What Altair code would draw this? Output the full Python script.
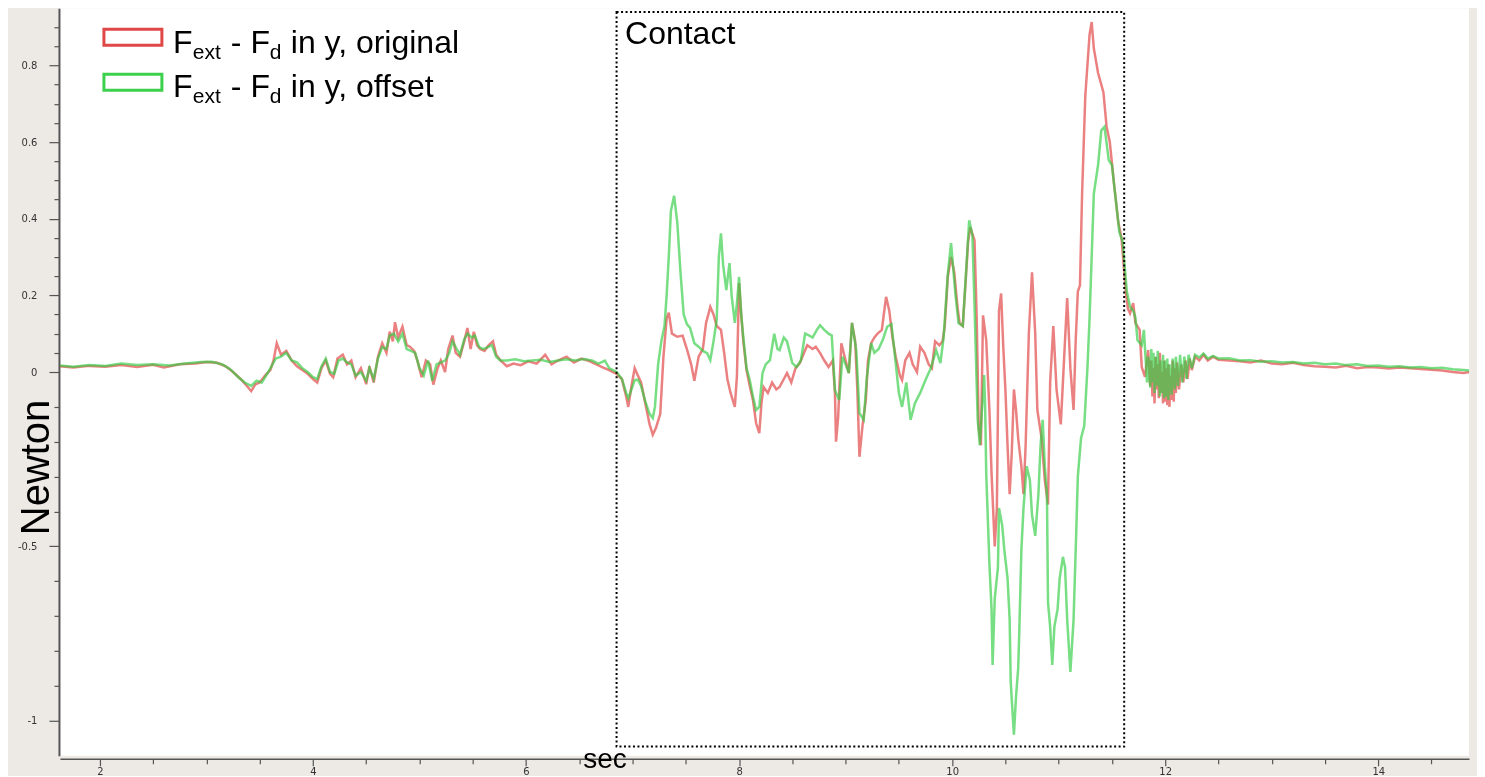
import altair as alt
import pandas as pd

# ---------------- data ----------------
t_orig = [1.62, 1.75, 1.90, 2.05, 2.20, 2.35, 2.50, 2.60, 2.75, 2.90, 3.00, 3.10, 3.18, 3.25, 3.32, 3.38,
          3.42, 3.46, 3.50, 3.55, 3.60, 3.63, 3.66, 3.70, 3.75, 3.80, 3.85, 3.90, 3.95, 4.00, 4.04, 4.08,
          4.12, 4.16, 4.19, 4.23, 4.28, 4.32, 4.36, 4.40, 4.45, 4.50, 4.53, 4.57, 4.61, 4.65, 4.69, 4.72,
          4.75, 4.77, 4.80, 4.84, 4.88, 4.91, 4.95, 4.98, 5.02, 5.06, 5.10, 5.13, 5.17, 5.20, 5.24, 5.27,
          5.31, 5.34, 5.38, 5.42, 5.45, 5.48, 5.51, 5.54, 5.57, 5.61, 5.65, 5.69, 5.72, 5.76, 5.82, 5.88,
          5.95, 6.02, 6.10, 6.18, 6.24, 6.30, 6.38, 6.45, 6.52, 6.60, 6.66, 6.72, 6.78, 6.85, 6.90, 6.94,
          6.96, 6.99, 7.02, 7.05, 7.08, 7.12, 7.16, 7.19, 7.22, 7.26, 7.29, 7.32, 7.34, 7.37, 7.42, 7.47,
          7.51, 7.55, 7.58, 7.62, 7.66, 7.69, 7.73, 7.76, 7.79, 7.83, 7.86, 7.89, 7.92, 7.96, 7.98, 8.00,
          8.02, 8.04, 8.07, 8.10, 8.13, 8.16, 8.19, 8.21, 8.23, 8.27, 8.31, 8.35, 8.38, 8.42, 8.45, 8.49,
          8.53, 8.57, 8.61, 8.64, 8.69, 8.72, 8.76, 8.80, 8.84, 8.88, 8.90, 8.91, 8.93, 8.96, 9.00, 9.03,
          9.06, 9.09, 9.11, 9.13, 9.16, 9.19, 9.21, 9.24, 9.27, 9.30, 9.34, 9.38, 9.41, 9.44, 9.47, 9.51,
          9.53, 9.56, 9.60, 9.63, 9.67, 9.70, 9.74, 9.78, 9.81, 9.84, 9.88, 9.91, 9.93, 9.96, 9.99, 10.02,
          10.05, 10.07, 10.10, 10.13, 10.15, 10.17, 10.19, 10.21, 10.23, 10.25, 10.27, 10.29, 10.32, 10.35,
          10.37, 10.40, 10.42, 10.44, 10.46, 10.48, 10.50, 10.52, 10.54, 10.56, 10.58, 10.60, 10.62, 10.65,
          10.67, 10.69, 10.72, 10.75, 10.78, 10.80, 10.84, 10.87, 10.90, 10.92, 10.95, 10.98, 11.02, 11.05,
          11.08, 11.11, 11.14, 11.16, 11.18, 11.20, 11.22, 11.25, 11.29, 11.31, 11.33, 11.37, 11.42, 11.45,
          11.48, 11.52, 11.56, 11.59, 11.63, 11.65, 11.67, 11.70, 11.72, 11.76, 11.78, 11.81, 11.84, 11.86,
          11.87, 11.88, 11.89, 11.90, 11.91, 11.92, 11.93, 11.94, 11.95, 11.96, 11.97, 11.98, 11.99, 12.00,
          12.01, 12.02, 12.03, 12.04, 12.05, 12.06, 12.07, 12.08, 12.09, 12.10, 12.11, 12.13, 12.15, 12.17,
          12.19, 12.21, 12.23, 12.25, 12.28, 12.32, 12.36, 12.40, 12.45, 12.50, 12.60, 12.70, 12.80, 12.90,
          13.00, 13.10, 13.20, 13.30, 13.40, 13.50, 13.60, 13.70, 13.80, 13.90, 14.00, 14.10, 14.20, 14.30,
          14.40, 14.50, 14.60, 14.70, 14.80, 14.86]
f_orig = [0.015, 0.012, 0.016, 0.014, 0.018, 0.013, 0.019, 0.012, 0.020, 0.022, 0.026, 0.024, 0.015, 0.000, -0.020, -0.040,
          -0.055, -0.035, -0.030, -0.010, 0.005, 0.030, 0.075, 0.045, 0.055, 0.030, 0.015, 0.005, -0.005, -0.020, -0.030, 0.010,
          0.030, -0.005, -0.015, 0.035, 0.045, 0.020, 0.030, -0.015, 0.010, -0.035, 0.015, -0.030, 0.040, 0.075, 0.050, 0.105,
          0.080, 0.130, 0.090, 0.118, 0.070, 0.066, 0.055, 0.030, -0.015, 0.030, 0.020, -0.036, 0.010, 0.030, 0.000, 0.060,
          0.095, 0.050, 0.040, 0.080, 0.115, 0.060, 0.105, 0.070, 0.060, 0.055, 0.070, 0.080, 0.045, 0.030, 0.015, 0.022,
          0.018, 0.028, 0.022, 0.045, 0.020, 0.030, 0.040, 0.025, 0.035, 0.028, 0.020, 0.012, 0.005, -0.005, -0.020, -0.070,
          -0.100, -0.040, 0.010, -0.010, -0.030, -0.090, -0.150, -0.180, -0.160, -0.120, 0.040, 0.140, 0.155, 0.100, 0.092, 0.095,
          0.060, 0.020, -0.025, 0.040, 0.060, 0.128, 0.170, 0.150, 0.120, 0.110, 0.050, -0.020, -0.060, -0.100, -0.010, 0.232,
          0.150, 0.080, 0.005, -0.040, -0.080, -0.147, -0.175, -0.090, -0.043, -0.060, -0.030, -0.050, -0.043, -0.020, -0.003, -0.030,
          0.010, 0.023, 0.050, 0.070, 0.060, 0.066, 0.050, 0.030, 0.013, 0.030, -0.060, -0.200, -0.130, 0.075, 0.030, -0.003,
          0.128, 0.080, -0.050, -0.243, -0.150, -0.080, 0.030, 0.075, 0.090, 0.100, 0.110, 0.196, 0.160, 0.090, 0.040, -0.010,
          -0.023, 0.030, 0.050, 0.020, 0.000, 0.066, 0.050, 0.020, 0.010, 0.080, 0.070, 0.080, 0.118, 0.250, 0.300, 0.260,
          0.170, 0.128, 0.120, 0.250, 0.340, 0.378, 0.360, 0.344, 0.147, -0.160, -0.210, 0.148, 0.083, -0.109,
          -0.290, -0.500, -0.390, 0.160, 0.205, 0.066, -0.050, -0.210, -0.350, -0.230, -0.050, -0.110, -0.190, -0.270,
          -0.350, -0.210, 0.100, 0.260, 0.100, -0.109, -0.190, -0.310, -0.380, -0.030, 0.120, -0.050, -0.150, 0.029,
          0.193, 0.010, -0.109, 0.083, 0.210, 0.226, 0.465, 0.720, 0.880, 0.913, 0.845, 0.780, 0.730, 0.640,
          0.600, 0.490, 0.390, 0.350, 0.210, 0.165, 0.153, 0.180, 0.128, 0.110, 0.013, -0.014, 0.057, -0.040,
          0.030, -0.070, 0.010, -0.090, 0.040, -0.050, 0.020, -0.075, 0.050, -0.060, 0.000, -0.090, 0.030, -0.085,
          0.010, -0.095, 0.020, -0.100, -0.010, -0.080, 0.030, -0.085, 0.010, -0.060, 0.025, -0.050, 0.020, -0.030,
          0.030, -0.020, 0.035, 0.005, 0.040, 0.030, 0.045, 0.030, 0.040, 0.032, 0.030, 0.028, 0.025, 0.030,
          0.022, 0.020, 0.024, 0.018, 0.015, 0.014, 0.012, 0.016, 0.010, 0.013, 0.012, 0.009, 0.012, 0.010,
          0.008, 0.006, 0.004, 0.000, -0.003, 0.000]

t_off = [1.62, 1.75, 1.90, 2.05, 2.20, 2.35, 2.50, 2.65, 2.80, 2.95, 3.05, 3.15, 3.22, 3.30, 3.36, 3.42,
         3.47, 3.52, 3.57, 3.61, 3.65, 3.70, 3.75, 3.80, 3.85, 3.90, 3.95, 4.00, 4.04, 4.08, 4.12, 4.16,
         4.20, 4.24, 4.28, 4.32, 4.36, 4.40, 4.45, 4.50, 4.53, 4.57, 4.61, 4.65, 4.69, 4.72, 4.76, 4.80,
         4.84, 4.88, 4.92, 4.96, 5.00, 5.04, 5.08, 5.12, 5.16, 5.20, 5.24, 5.28, 5.31, 5.35, 5.38, 5.42,
         5.45, 5.49, 5.52, 5.56, 5.60, 5.64, 5.68, 5.72, 5.76, 5.82, 5.90, 5.98, 6.06, 6.14, 6.22, 6.30,
         6.38, 6.46, 6.54, 6.62, 6.68, 6.74, 6.78, 6.85, 6.90, 6.94, 6.96, 6.99, 7.02, 7.05, 7.08, 7.12,
         7.16, 7.19, 7.21, 7.24, 7.27, 7.30, 7.32, 7.34, 7.36, 7.39, 7.42, 7.45, 7.48, 7.51, 7.54, 7.58,
         7.62, 7.66, 7.70, 7.73, 7.76, 7.79, 7.81, 7.83, 7.85, 7.88, 7.91, 7.93, 7.96, 7.98, 8.00, 8.02,
         8.04, 8.07, 8.10, 8.13, 8.16, 8.19, 8.22, 8.25, 8.29, 8.33, 8.36, 8.38, 8.42, 8.45, 8.50, 8.54,
         8.58, 8.62, 8.66, 8.69, 8.73, 8.76, 8.80, 8.84, 8.87, 8.90, 8.94, 8.97, 9.00, 9.03, 9.06, 9.10,
         9.13, 9.17, 9.20, 9.24, 9.27, 9.31, 9.35, 9.39, 9.43, 9.46, 9.50, 9.53, 9.57, 9.61, 9.65, 9.70,
         9.75, 9.80, 9.85, 9.89, 9.92, 9.96, 9.99, 10.03, 10.06, 10.10, 10.13, 10.16, 10.19, 10.21, 10.23, 10.24,
         10.26, 10.28, 10.30, 10.31, 10.32, 10.35, 10.37, 10.38, 10.40, 10.43, 10.44, 10.47, 10.49, 10.52, 10.54, 10.55,
         10.58, 10.60, 10.62, 10.63, 10.65, 10.67, 10.70, 10.73, 10.75, 10.78, 10.81, 10.83, 10.85, 10.87, 10.89, 10.90,
         10.92, 10.94, 10.96, 10.99, 11.01, 11.04, 11.06, 11.08, 11.11, 11.14, 11.16, 11.18, 11.21, 11.24, 11.27, 11.29,
         11.31, 11.33, 11.37, 11.40, 11.43, 11.47, 11.50, 11.53, 11.57, 11.60, 11.64, 11.67, 11.70, 11.72, 11.74, 11.78,
         11.80, 11.83, 11.84, 11.86, 11.87, 11.88, 11.89, 11.90, 11.91, 11.92, 11.93, 11.95, 11.96, 11.97, 11.98, 11.99,
         12.00, 12.01, 12.02, 12.03, 12.04, 12.06, 12.07, 12.09, 12.10, 12.12, 12.14, 12.16, 12.18, 12.20, 12.22, 12.25,
         12.28, 12.32, 12.36, 12.40, 12.45, 12.50, 12.60, 12.70, 12.80, 12.90, 13.00, 13.10, 13.20, 13.30, 13.40, 13.50,
         13.60, 13.70, 13.80, 13.90, 14.00, 14.10, 14.20, 14.30, 14.40, 14.50, 14.60, 14.70, 14.80, 14.86]
f_off = [0.017, 0.014, 0.018, 0.016, 0.022, 0.018, 0.020, 0.017, 0.022, 0.026, 0.027, 0.020, 0.008, -0.015, -0.030, -0.040,
         -0.025, -0.030, -0.005, 0.015, 0.035, 0.040, 0.050, 0.030, 0.025, 0.010, 0.000, -0.015, -0.020, 0.015, 0.035, 0.000,
         -0.005, 0.030, 0.035, 0.025, 0.020, -0.010, 0.000, -0.025, 0.010, -0.020, 0.035, 0.065, 0.060, 0.095, 0.100, 0.080,
         0.100, 0.060, 0.055, 0.050, 0.010, -0.010, 0.030, -0.025, 0.020, 0.025, 0.030, 0.050, 0.080, 0.060, 0.045, 0.085,
         0.100, 0.090, 0.095, 0.065, 0.060, 0.065, 0.070, 0.040, 0.030, 0.030, 0.033, 0.028, 0.030, 0.032, 0.026, 0.030,
         0.033, 0.030, 0.034, 0.030, 0.022, 0.030, 0.010, 0.000, -0.020, -0.060, -0.075, -0.050, -0.023, -0.022, -0.040, -0.085,
         -0.120, -0.132, -0.100, 0.020, 0.080, 0.120, 0.200, 0.300, 0.420, 0.460, 0.390, 0.260, 0.150, 0.125, 0.115, 0.075,
         0.066, 0.055, 0.049, 0.031, 0.080, 0.136, 0.300, 0.362, 0.280, 0.214, 0.284, 0.200, 0.128, 0.180, 0.248, 0.150,
         0.090, 0.010, -0.023, -0.070, -0.109, -0.100, -0.003, 0.020, 0.031, 0.100, 0.060, 0.057, 0.090, 0.080, 0.023, 0.013,
         0.030, 0.100, 0.095, 0.090, 0.110, 0.122, 0.110, 0.100, 0.095, -0.052, -0.080, 0.040, 0.020, -0.003, 0.128, 0.057,
         -0.118, -0.137, -0.013, 0.075, 0.050, 0.060, 0.085, 0.118, 0.125, 0.050, -0.060, -0.100, -0.030, -0.137, -0.090, -0.060,
         -0.023, 0.010, 0.057, 0.023, 0.090, 0.258, 0.336, 0.206, 0.128, 0.120, 0.258, 0.396, 0.357, 0.175, -0.030, -0.137,
         -0.210, -0.109, -0.009, -0.100, -0.290, -0.550, -0.680, -0.840, -0.650, -0.560, -0.390, -0.440, -0.510, -0.590, -0.710, -0.890,
         -1.040, -0.930, -0.850, -0.750, -0.510, -0.390, -0.270, -0.310, -0.410, -0.470, -0.350, -0.210, -0.137, -0.270, -0.350, -0.660,
         -0.730, -0.840, -0.730, -0.680, -0.590, -0.530, -0.560, -0.710, -0.860, -0.710, -0.510, -0.300, -0.190, -0.155, 0.010, 0.140,
         0.300, 0.465, 0.540, 0.630, 0.640, 0.553, 0.540, 0.465, 0.365, 0.340, 0.210, 0.170, 0.160, 0.143, 0.083, 0.070,
         0.110, -0.030, 0.040, -0.045, 0.060, -0.030, 0.050, -0.060, 0.040, -0.040, 0.055, -0.070, 0.030, -0.060, 0.045, -0.075,
         0.030, -0.070, 0.035, -0.080, 0.020, -0.065, 0.035, -0.050, 0.040, -0.040, 0.045, -0.030, 0.040, -0.020, 0.045, 0.010,
         0.045, 0.038, 0.048, 0.035, 0.042, 0.035, 0.036, 0.030, 0.031, 0.027, 0.028, 0.025, 0.026, 0.022, 0.024, 0.020,
         0.022, 0.018, 0.020, 0.016, 0.017, 0.014, 0.015, 0.012, 0.013, 0.010, 0.011, 0.007, 0.005, 0.004]

contact_start, contact_end = 6.85, 11.615
contact_top, contact_bottom = 0.939, -1.074

y_major = [0.8, 0.6, 0.4, 0.2, 0, -0.5, -1]
y_ticks = [round(0.05 * i, 2) for i in range(0, 20)] + [round(-0.1 * i, 1) for i in range(1, 11)]
x_ticks = [2 + 0.5 * i for i in range(0, 26)]

# ---------------- chart ----------------
df_orig = pd.DataFrame({"t": t_orig, "f": f_orig})
df_off = pd.DataFrame({"t": t_off, "f": f_off})

FONT = "Liberation Sans"
major_list = "[" + ",".join(str(v) for v in y_major) + "]"

x_scale = alt.Scale(domain=[1.625, 14.852], nice=False, zero=False)
y_scale = alt.Scale(domain=[-1.1003, 0, 0.949], range=[748, 364, 0], nice=False, zero=False)

x_axis = alt.Axis(
    values=x_ticks, tickCount=200,
    labelExpr="datum.value % 2 == 0 ? '' + datum.value : ''",
    tickSize={"condition": {"test": "datum.value % 2 == 0", "value": 7}, "value": 5},
    offset=3, grid=False, labelOverlap=False,
    domainColor="#555555", domainWidth=1.5, tickColor="#555555", tickWidth=1.2,
    labelFont="DejaVu Sans", labelFontSize=10, labelColor="#333333", labelPadding=1,
    title="sec", titleFont=FONT, titleFontSize=28, titleFontWeight="normal", titleColor="#000000",
    titleX=545, titleY=9, titleAlign="center", titleBaseline="alphabetic",
)
y_axis = alt.Axis(
    values=y_ticks, tickCount=200,
    labelExpr=f"indexof({major_list}, datum.value) >= 0 ? '' + datum.value : ''",
    tickSize={"condition": {"test": f"indexof({major_list}, datum.value) >= 0", "value": 10}, "value": 5},
    offset=1, grid=False, labelOverlap=False,
    domainColor="#555555", domainWidth=2, tickColor="#555555", tickWidth=1.2,
    labelFont="DejaVu Sans", labelFontSize=10, labelColor="#333333", labelPadding=12,
    title="Newton", titleFont=FONT, titleFontSize=40, titleFontWeight="normal", titleColor="#000000",
    titleX=-10, titleY=459, titleAlign="center", titleBaseline="alphabetic", titleAngle=270,
)

base_x = alt.X("t:Q", scale=x_scale, axis=x_axis)
base_y = alt.Y("f:Q", scale=y_scale, axis=y_axis)

line_orig = alt.Chart(df_orig).mark_line(
    color="#e03c3c", strokeWidth=2.5, opacity=0.65, clip=True, blend="multiply"
).encode(x=base_x, y=base_y)

line_off = alt.Chart(df_off).mark_line(
    color="#2ecc40", strokeWidth=2.5, opacity=0.65, clip=True, blend="multiply"
).encode(x=alt.X("t:Q", scale=x_scale), y=alt.Y("f:Q", scale=y_scale))

box_df = pd.DataFrame({"t": [contact_start], "t2": [contact_end], "f": [contact_top], "f2": [contact_bottom]})
box = alt.Chart(box_df).mark_rect(
    filled=False, stroke="black", strokeWidth=2, strokeDash=[2, 2.5]
).encode(x=alt.X("t:Q", scale=x_scale), x2="t2:Q", y=alt.Y("f:Q", scale=y_scale), y2="f2:Q")

label_df = pd.DataFrame({"t": [6.93], "f": [0.857], "txt": ["Contact"]})
contact_txt = alt.Chart(label_df).mark_text(
    font=FONT, fontSize=32, align="left", baseline="alphabetic", color="black"
).encode(x=alt.X("t:Q", scale=x_scale), y=alt.Y("f:Q", scale=y_scale), text="txt:N")

# legend (drawn by hand: subscripted text)
one = pd.DataFrame({"a": [0]})
legend_layers = []
for row, (color, name) in enumerate([("#e04848", "original"), ("#3cd04c", "offset")]):
    y0 = 21 + 45 * row
    base_line = 45 + 44 * row
    legend_layers.append(
        alt.Chart(one).mark_rect(fill="white", stroke=color, strokeWidth=3).encode(
            x=alt.value(44), x2=alt.value(102), y=alt.value(y0), y2=alt.value(y0 + 16))
    )
    pieces = [("F", 113, 0, 32), ("ext", 133, 6, 21), ("- F", 171, 0, 32), ("d", 210, 6, 21),
              (f"in y, {name}", 231, 0, 32)]
    for txt, xx, dy, fs in pieces:
        legend_layers.append(
            alt.Chart(one).mark_text(text=txt, font=FONT, fontSize=fs, align="left",
                                     baseline="alphabetic", color="black").encode(
                x=alt.value(xx), y=alt.value(base_line + dy))
        )

chart = alt.layer(line_orig, line_off, box, contact_txt, *legend_layers).properties(
    width=1410, height=748,
    autosize=alt.AutoSizeParams(type="none"),
    padding={"left": 52, "top": 0, "right": 8, "bottom": 20},
    background="#edeae5",
).configure_view(fill="white", strokeWidth=0)

chart.save("out.html", embed_options={"renderer": "svg", "actions": False})
